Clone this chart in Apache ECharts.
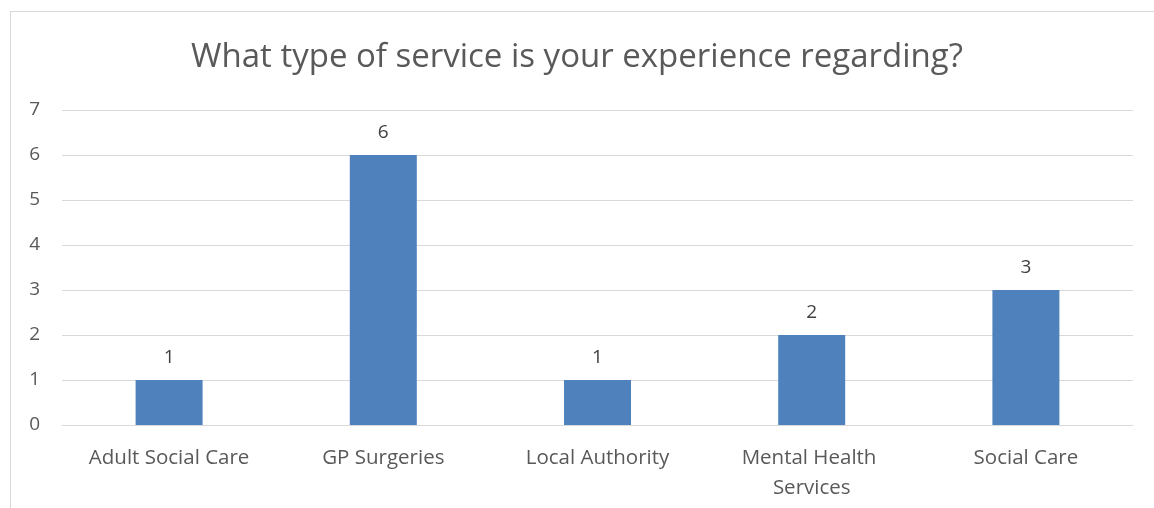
<!DOCTYPE html>
<html>
<head>
<meta charset="utf-8">
<script src="https://cdn.jsdelivr.net/npm/echarts@6/dist/echarts.min.js"></script>
<style>
  html, body { margin: 0; padding: 0; background: #fff; }
  #wrap { position: relative; width: 1154px; height: 508px; overflow: hidden; }
  #frame { position: absolute; left: 10px; top: 11px; width: 1160px; height: 520px; border: 1px solid #d9d9d9; box-sizing: border-box; }
  #chart { position: absolute; left: 0; top: 0; width: 1154px; height: 508px; }
</style>
</head>
<body>
<div id="wrap">
  <div id="frame"></div>
  <div id="chart"></div>
</div>
<script>
const categories = ["Adult Social Care", "GP Surgeries", "Local Authority", "Mental Health Services", "Social Care"];
const counts = [1, 6, 1, 2, 3];
const titleText = "What type of service is your experience regarding?";

const chart = echarts.init(document.getElementById("chart"));
const fontFamily = "'Open Sans', 'Noto Sans', sans-serif";

const option = {
  animation: false,
  title: {
    text: titleText,
    left: "center",
    top: 36,
    textStyle: {
      color: "#595959",
      fontSize: 33,
      fontWeight: "normal",
      fontFamily: fontFamily,
    },
  },
  grid: {
    left: 62,
    right: 21,
    top: 110,
    bottom: 83,
  },
  xAxis: {
    type: "category",
    data: categories,
    axisLine: { lineStyle: { color: "#d9d9d9", width: 1 } },
    axisTick: { show: false },
    axisLabel: {
      color: "#595959",
      fontSize: 20.5,
      fontFamily: fontFamily,
      margin: 18,
      lineHeight: 30,
      width: 170,
      overflow: "break",
      interval: 0,
    },
  },
  yAxis: {
    type: "value",
    min: 0,
    max: 7,
    interval: 1,
    axisLine: { show: false },
    axisTick: { show: false },
    splitLine: { lineStyle: { color: "#d9d9d9", width: 1 } },
    axisLabel: {
      color: "#595959",
      fontSize: 19,
      fontFamily: fontFamily,
      margin: 22,
    },
  },
  series: [
    {
      type: "bar",
      data: counts,
      barWidth: 67,
      itemStyle: { color: "#4f81bd" },
      label: {
        show: true,
        position: "top",
        distance: 13,
        color: "#404040",
        fontSize: 19,
        fontFamily: fontFamily,
      },
    },
  ],
};

chart.setOption(option);
</script>
</body>
</html>
